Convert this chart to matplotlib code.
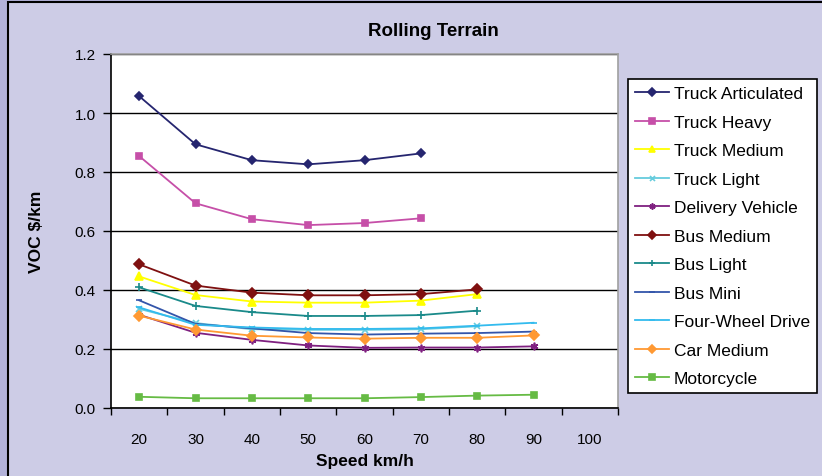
import numpy as np
import matplotlib.pyplot as plt
from matplotlib.patches import Rectangle

plt.rcParams['font.family'] = ['Liberation Sans', 'DejaVu Sans']

# vehicle operating cost per km, rolling terrain
speeds = [20, 30, 40, 50, 60, 70, 80, 90]
truck_articulated = [1.057, 0.894, 0.840, 0.826, 0.840, 0.863]
truck_heavy = [0.854, 0.694, 0.640, 0.620, 0.627, 0.643]
truck_medium = [0.446, 0.383, 0.361, 0.357, 0.357, 0.364, 0.386]
truck_light = [0.336, 0.288, 0.267, 0.265, 0.265, 0.267, 0.277]
delivery_vehicle = [0.316, 0.255, 0.231, 0.212, 0.204, 0.205, 0.205, 0.209]
bus_medium = [0.487, 0.415, 0.391, 0.382, 0.382, 0.386, 0.402]
bus_light = [0.409, 0.346, 0.325, 0.312, 0.312, 0.315, 0.330]
bus_mini = [0.365, 0.285, 0.270, 0.254, 0.249, 0.252, 0.254, 0.259]
four_wheel_drive = [0.341, 0.282, 0.273, 0.268, 0.268, 0.270, 0.279, 0.289]
car_medium = [0.313, 0.266, 0.245, 0.239, 0.235, 0.238, 0.238, 0.246]
motorcycle = [0.038, 0.033, 0.033, 0.033, 0.033, 0.037, 0.042, 0.045]

series = [
    ("Truck Articulated", truck_articulated, '#25256f', 'D', 4.5),
    ("Truck Heavy", truck_heavy, '#c64fa8', 's', 5),
    ("Truck Medium", truck_medium, '#ffff00', '^', 6),
    ("Truck Light", truck_light, '#66ccdd', 'x', 4.5),
    ("Delivery Vehicle", delivery_vehicle, '#7f2080', (6, 2, 0), 5.5),
    ("Bus Medium", bus_medium, '#7f1010', 'D', 5),
    ("Bus Light", bus_light, '#1a8a8a', '+', 6),
    ("Bus Mini", bus_mini, '#3355aa', '_', 5),
    ("Four-Wheel Drive", four_wheel_drive, '#33bbee', '_', 5),
    ("Car Medium", car_medium, '#ff9933', 'D', 5),
    ("Motorcycle", motorcycle, '#66bb44', 's', 5),
]

fig = plt.figure(figsize=(8.22, 4.77), dpi=100)
fig.patch.set_facecolor('#b3b2d9')
# chart area with black frame (runs off the right/bottom edge)
fig.patches.append(Rectangle((8 / 822, -0.1), 1.2, 1.1 - 3 / 477,
                             transform=fig.transFigure, facecolor='#cdcce6',
                             edgecolor='black', linewidth=1.5, zorder=-10))

ax = fig.add_axes([111 / 822, 1 - 409 / 477, (618 - 111) / 822, (409 - 55) / 477])
ax.set_facecolor('white')

for name, vals, col, mk, ms in series:
    ax.plot(speeds[:len(vals)], vals, color=col, marker=mk, markersize=ms,
            markeredgecolor=col, markerfacecolor=col, linewidth=1.3,
            markeredgewidth=1.2, label=name, clip_on=False)

ax.set_xlim(15, 105)
ax.set_ylim(0, 1.2)
ax.set_xticks(np.arange(20, 101, 10))
ax.set_xticks(np.arange(15, 106, 10), minor=True)
ax.set_yticks(np.arange(0, 1.21, 0.2))
ax.set_yticklabels(["%.1f" % v for v in np.arange(0, 1.21, 0.2)])
ax.tick_params(axis='x', which='major', length=0, pad=17, labelsize=11)
ax.tick_params(axis='x', which='minor', length=5, width=1, direction='out')
ax.tick_params(axis='y', length=6, width=1, direction='out', pad=5, labelsize=11)
ax.yaxis.grid(True, color='black', linewidth=1)
ax.set_axisbelow(True)

for s in ['top', 'right']:
    ax.spines[s].set_color('#a0a0a0')
    ax.spines[s].set_linewidth(1.2)
for s in ['left', 'bottom']:
    ax.spines[s].set_color('black')
    ax.spines[s].set_linewidth(1.2)

ax.set_xlabel("Speed km/h", fontsize=12.5, fontweight='bold', labelpad=5)
ax.set_ylabel("VOC $/km", fontsize=12.5, fontweight='bold', labelpad=22)
fig.text(433 / 822, 1 - 31 / 477, "Rolling Terrain", fontsize=13.5,
         fontweight='bold', ha='center', va='center')

leg = ax.legend(loc='upper left', bbox_to_anchor=(628 / 822, 1 - 80 / 477),
                bbox_transform=fig.transFigure, fontsize=12.5, frameon=True,
                fancybox=False, edgecolor='black', framealpha=1,
                handlelength=1.95, handletextpad=0.3, labelspacing=0.77,
                borderpad=0.4, borderaxespad=0, markerscale=0.8)
leg.get_frame().set_linewidth(1.2)

plt.savefig("out.png", dpi=100, facecolor=fig.get_facecolor())
